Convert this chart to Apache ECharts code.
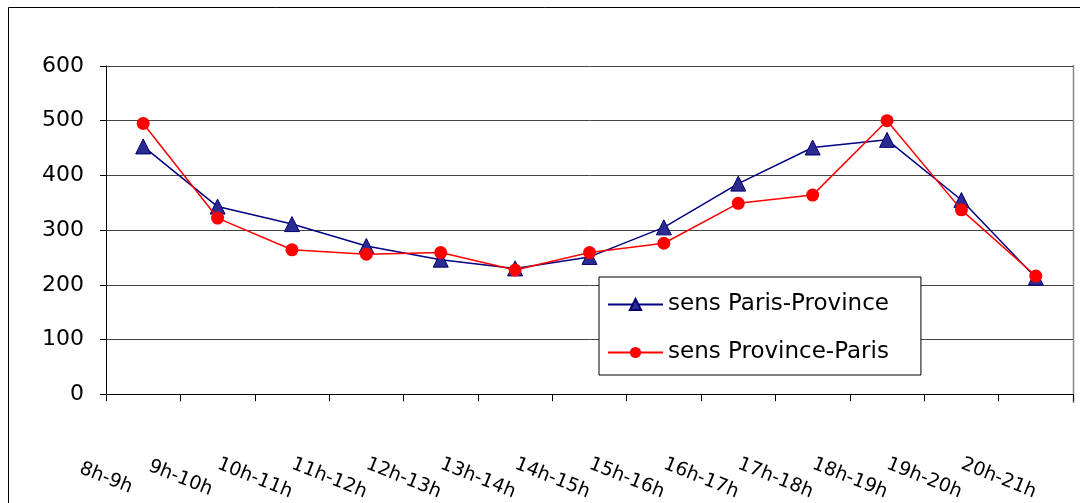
<!DOCTYPE html>
<html>
<head>
<meta charset="utf-8">
<script src="https://cdn.jsdelivr.net/npm/echarts@6/dist/echarts.min.js"></script>
<style>
html,body{margin:0;padding:0;background:#fff;}
#chart{width:1085px;height:503px;}
</style>
</head>
<body>
<div id="chart"></div>
<script>
var categories = ['8h-9h','9h-10h','10h-11h','11h-12h','12h-13h','13h-14h','14h-15h','15h-16h','16h-17h','17h-18h','18h-19h','19h-20h','20h-21h'];
var parisProvince = [453, 343, 311, 271, 246, 230, 251, 305, 385, 451, 465, 355, 213];
var provinceParis = [495, 322, 264, 256, 259, 227, 259, 276, 349, 364, 500, 337, 216];
var yTicks = [0, 100, 200, 300, 400, 500, 600];
var seriesNames = ['sens Paris-Province', 'sens Province-Paris'];

var labelAxisData = categories.concat(['']);

var chart = echarts.init(document.getElementById('chart'));
chart.setOption({
  backgroundColor: '#fff',
  animation: false,
  grid: {left: 106, right: 12, top: 66, bottom: 107, containLabel: false},
  xAxis: [{
    type: 'category',
    data: categories,
    boundaryGap: true,
    axisLine: {show: true, lineStyle: {color: '#000', width: 1}},
    axisTick: {show: true, length: 7, interval: 0, lineStyle: {color: '#000'}},
    axisLabel: {show: false},
    splitLine: {show: false}
  }, {
    type: 'category',
    data: labelAxisData,
    boundaryGap: false,
    position: 'bottom',
    axisLine: {show: false},
    axisTick: {show: false},
    axisLabel: {
      show: true, interval: 0, rotate: -22, margin: 84,
      align: 'center', verticalAlign: 'middle',
      fontFamily: 'DejaVu Sans', fontSize: 19, color: '#000'
    },
    splitLine: {show: false}
  }],
  yAxis: {
    type: 'value',
    min: 0, max: 600, interval: 100,
    axisLine: {show: true, lineStyle: {color: '#000', width: 1}},
    axisTick: {show: true, length: 6, lineStyle: {color: '#000'}},
    axisLabel: {
      margin: 22, fontFamily: 'DejaVu Sans', fontSize: 22, color: '#000',
      formatter: function (v) { return yTicks.indexOf(v) >= 0 ? String(v) : ''; }
    },
    splitLine: {show: true, lineStyle: {color: '#444', width: 1}}
  },
  legend: {
    data: seriesNames,
    orient: 'vertical',
    left: 599, top: 277,
    padding: [16, 32, 11, 8],
    itemWidth: 55, itemHeight: 14, itemGap: 25,
    backgroundColor: '#fff',
    borderColor: '#000', borderWidth: 1, borderRadius: 0,
    textStyle: {fontFamily: 'DejaVu Sans', fontSize: 23, color: '#000'}
  },
  graphic: [
    {type: 'polyline', silent: true, shape: {points: [[8.5, 503], [8.5, 7.5], [1080, 7.5]]}, style: {stroke: '#000', lineWidth: 1, fill: null}},
    {type: 'line', silent: true, shape: {x1: 1073.5, y1: 65, x2: 1073.5, y2: 403}, style: {stroke: '#888', lineWidth: 1.5}}
  ],
  series: [{
    name: seriesNames[0],
    type: 'line',
    data: parisProvince,
    symbol: 'triangle',
    symbolSize: 15,
    showAllSymbol: true,
    itemStyle: {color: '#2b2b92', borderColor: '#00006e', borderWidth: 1},
    lineStyle: {color: '#000080', width: 1.5},
    z: 3
  }, {
    name: seriesNames[1],
    type: 'line',
    data: provinceParis,
    symbol: 'circle',
    symbolSize: 13,
    showAllSymbol: true,
    itemStyle: {color: '#ff0000', borderColor: '#ff0000', borderWidth: 0},
    lineStyle: {color: '#ff0000', width: 1.5},
    z: 4
  }]
});
</script>
</body>
</html>
